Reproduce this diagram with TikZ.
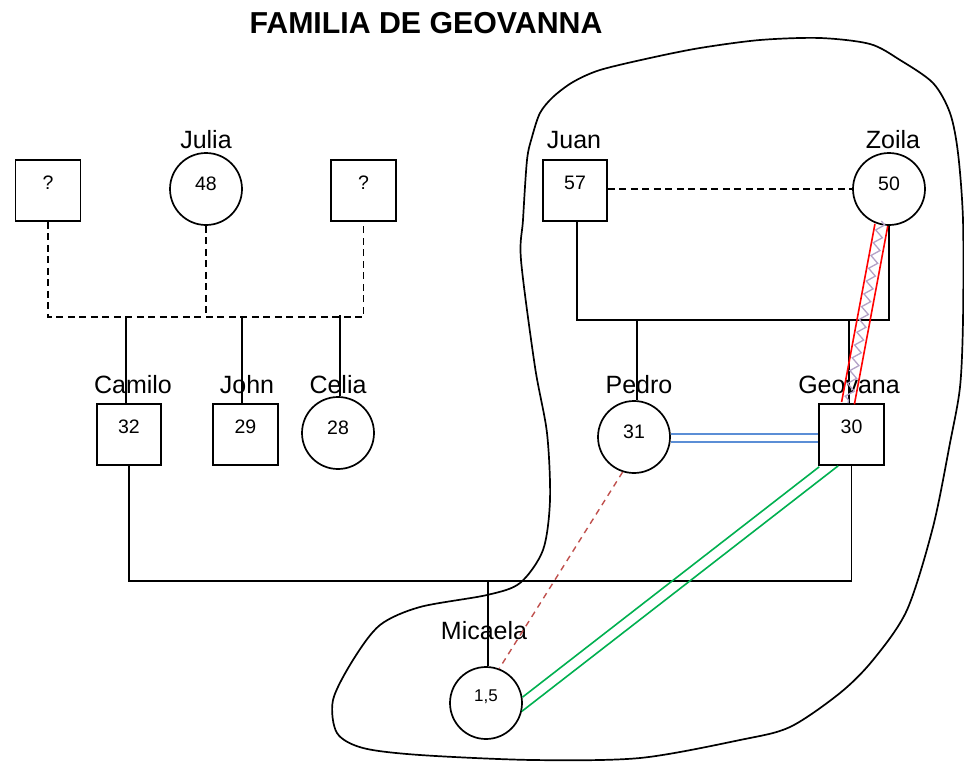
\documentclass[tikz,border=0pt]{standalone}
\usepackage{fontspec}
\setmainfont{Liberation Sans}
\usetikzlibrary{calc,decorations.pathmorphing}
\definecolor{relblue}{RGB}{91,142,214}
\definecolor{relgreen}{RGB}{0,176,80}
\definecolor{relred}{RGB}{255,0,0}
\definecolor{dashred}{RGB}{192,80,77}
\definecolor{lav}{RGB}{179,162,199}
\begin{document}
\begin{tikzpicture}[x=1pt,y=-1pt,
  person/.style={draw, line width=1.7pt, inner sep=0pt, font=\fontsize{19.5}{22}\selectfont, text height=14pt},
  male/.style={person, rectangle, minimum width=65pt, minimum height=61pt, text depth=16pt},
  female/.style={person, circle, minimum size=72pt, text depth=12pt},
  pname/.style={anchor=base, inner sep=0pt, font=\fontsize{25}{30}\selectfont},
  ttl/.style={inner sep=0pt, font=\fontsize{30.3}{36}\selectfont\bfseries},
  kin/.style={line width=1.7pt},
  dsh/.style={line width=1.7pt, dash pattern=on 7pt off 4.5pt},
  redl/.style={draw=relred, line width=1.6pt},
  bluel/.style={draw=relblue, line width=1.6pt},
  greenl/.style={draw=relgreen, line width=1.6pt},
  zz/.style={draw=lav, line width=1.3pt, decorate, decoration={zigzag, segment length=13pt, amplitude=4pt}},
  rdash/.style={draw=dashred, line width=1.4pt, dash pattern=on 6pt off 5pt},
  blob/.style={line width=1.7pt}]
\useasboundingbox (0,0) rectangle (964,761);
\fill[white] (0,0) rectangle (964,761);

% title
\node[ttl] (title) at (426,23) {FAMILIA DE GEOVANNA};

% encircling outline
\draw[blob] plot[smooth cycle, tension=0.5] coordinates {
 (700,48) (760,40) (820,38) (870,44) (900,60) (933,83) (950,113) (958,153)
 (963,220) (963,320) (960,387) (950,443) (933,527) (907,610) (873,660) (840,693)
 (790,727) (740,740) (640,758) (533,760) (420,755) (363,748) (337,733) (333,700)
 (353,660) (380,625) (420,607) (487,595) (520,583) (543,550) (550,500) (547,433)
 (535,367) (521,260) (523,220) (527,160) (532,137) (540,113) (553,97) (573,82)
 (600,70) (650,58)};

% persons
\node[male]   (q1)      at (48,190.5)    {?};
\node[female] (julia)   at (206,189)     {48};
\node[male]   (q2)      at (363.5,190.5) {?};
\node[male, minimum width=64pt] (juan) at (575,190.5) {57};
\node[female] (zoila)   at (889,189)     {50};
\node[male, minimum width=64pt] (camilo) at (129,434.5) {32};
\node[male]   (john)    at (245.5,434.5) {29};
\node[female] (celia)   at (338,433)     {28};
\node[female] (pedro)   at (634,437)     {31};
\node[male]   (geovana) at (851.5,434.5) {30};
\node[female, font=\fontsize{17}{20}\selectfont, text height=12pt, text depth=16pt] (micaela) at (486,703) {1,5};

% names
\node[pname] (nJulia)   at (206,148) {Julia};
\node[pname] (nJuan)    at (574,148) {Juan};
\node[pname] (nZoila)   at (893,148) {Zoila};
\node[pname] (nCamilo)  at (133,393) {Camilo};
\node[pname] (nJohn)    at (247,393) {John};
\node[pname] (nCelia)   at (338,393) {Celia};
\node[pname] (nPedro)   at (639,393) {Pedro};
\node[pname] (nGeovana) at (849,393) {Geovana};
\node[pname] (nMicaela) at (484,639) {Micaela};

% left family
\coordinate (lb) at (0,317);
\draw[dsh] (q1.south) -- (q1.south |- lb) -- (q2.south |- lb) -- (q2.south);
\draw[dsh] (julia.south) -- (julia.south |- lb);
\draw[kin] ([xshift=-3pt]camilo.north) -- ([xshift=-3pt]camilo.north |- lb);
\draw[kin] ([xshift=-3.5pt]john.north) -- ([xshift=-3.5pt]john.north |- lb);
\draw[kin] ([xshift=2pt]celia.north) -- ([xshift=2pt,yshift=2pt]celia.north |- lb);

% right family
\coordinate (rb) at (0,320);
\draw[dsh] (juan.east |- zoila.west) -- (zoila.west);
\draw[kin] ([xshift=2pt]juan.south) -- ([xshift=2pt]juan.south |- rb) -- (zoila.south |- rb) -- (zoila.south);
\draw[kin] ([xshift=3pt]pedro.north) -- ([xshift=3pt]pedro.north |- rb);
\draw[kin] ([xshift=-2.5pt]geovana.north) -- ([xshift=-2.5pt]geovana.north |- rb);

% bottom family
\coordinate (bb) at (0,581);
\draw[kin] (camilo.south) -- (camilo.south |- bb) -- (geovana.south |- bb) -- (geovana.south);
\draw[kin] ([xshift=2pt]micaela.north) -- ([xshift=2pt]micaela.north |- bb);

% Zoila - Geovana
\coordinate (zg1) at (zoila.258);
\coordinate (zg2) at ([xshift=-3.5pt]geovana.north);
\draw[zz] ([yshift=4pt]zg1) -- (zg2);
\draw[redl] ($(zg1)!6.5pt!90:(zg2)$) -- ($(zg2)!6.5pt!-90:(zg1)$);
\draw[redl] ($(zg1)!6.5pt!-90:(zg2)$) -- ($(zg2)!6.5pt!90:(zg1)$);

% Pedro - Geovana
\coordinate (pg1) at ([yshift=-1pt]pedro.east);
\coordinate (pg2) at (geovana.west |- pg1);
\draw[bluel] ($(pg1)!4pt!90:(pg2)$) -- ($(pg2)!4pt!-90:(pg1)$);
\draw[bluel] ($(pg1)!4pt!-90:(pg2)$) -- ($(pg2)!4pt!90:(pg1)$);

% Geovana - Micaela
\draw[greenl] ([xshift=1pt,yshift=-1pt]geovana.south west) -- (micaela.9.5);
\draw[greenl] ([xshift=20pt]geovana.south west) -- (micaela.-13);

% Pedro - Micaela
\draw[rdash] (pedro.252) -- (micaela.69);
\end{tikzpicture}
\end{document}
